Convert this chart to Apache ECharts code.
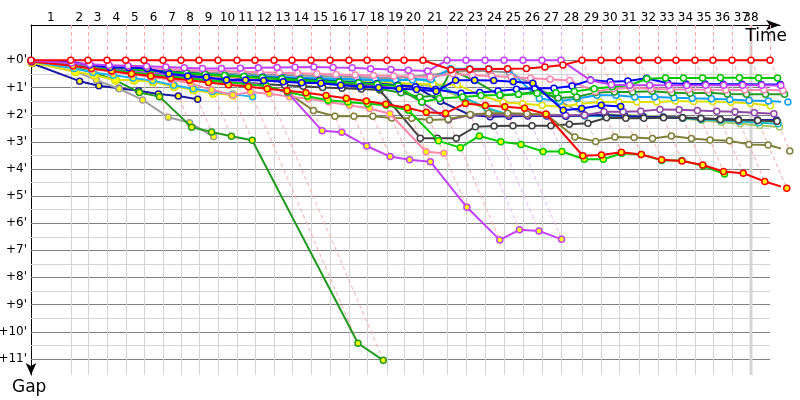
<!DOCTYPE html>
<html><head><meta charset="utf-8">
<script src="https://cdn.jsdelivr.net/npm/echarts@6/dist/echarts.min.js"></script>
<style>html,body{margin:0;padding:0;background:#fff}#c{width:800px;height:400px}</style>
</head><body><div id="c"></div>
<script>
// Leader's cumulative race time (minutes) at the end of each lap (lap 0 = start)
const lapTimes = [0,3.42,4.91,6.55,8.16,9.74,11.38,12.93,14.48,16.12,17.76,19.31,20.95,22.50,24.14,25.78,27.41,28.97,30.69,32.16,33.79,35.86,37.50,39.14,40.78,42.41,44.05,45.69,47.50,49.14,50.69,52.41,54.05,55.60,57.24,58.79,60.43,62.07,63.71];
const lapLabels = ['1','2','3','4','5','6','7','8','9','10','11','12','13','14','15','16','17','18','19','20','21','22','23','24','25','26','27','28','29','30','31','32','33','34','35','36','37','38'];
const gapTicks = [0,1,2,3,4,5,6,7,8,9,10,11];
const gapGrid = [0,0.5,1,1.5,2,2.5,3,3.5,4,4.5,5,5.5,6,6.5,7,7.5,8,8.5,9,9.5,10,10.5,11];
const finishLap = 37;

// Gap to leader (minutes), one value per lap starting at lap 0
const red      = [0,0,0,0,0,0,0,0,0,0,0,0,0,0,0,0,0,0,0,0,0,0.35,0.33,0.32,0.31,0.30,0.25,0.17,0,0,0,0,0,0,0,0,0,0,0];
const violet   = [0.02,0.10,0.15,0.18,0.20,0.22,0.25,0.28,0.30,0.30,0.29,0.28,0.27,0.26,0.25,0.27,0.28,0.31,0.34,0.37,0.40,0,0,0,0,0,0,0,0.74,0.90,0.92,0.92,0.92,0.93,0.92,0.92,0.92,0.92,0.93];
const green    = [0.03,0.15,0.22,0.28,0.33,0.38,0.43,0.48,0.52,0.56,0.60,0.64,0.68,0.72,0.76,0.80,0.84,0.88,0.95,1.54,1.41,1.35,1.30,1.28,1.25,1.22,1.20,1.15,1.05,0.98,0.92,0.68,0.65,0.65,0.65,0.64,0.64,0.65,0.65];
const pink     = [0.03,0.12,0.18,0.22,0.26,0.30,0.33,0.36,0.38,0.40,0.42,0.44,0.46,0.48,0.50,0.52,0.54,0.56,0.58,0.60,0.62,0.50,0.55,0.58,0.62,0.66,0.70,0.75,1.15,1.05,1.02,1.05,1.08,1.08,1.09,1.10,1.10,1.10,1.11];
const blue     = [0.02,0.12,0.20,0.26,0.32,0.37,0.42,0.47,0.52,0.56,0.60,0.63,0.66,0.70,0.74,0.78,0.82,0.86,0.92,0.98,1.08,1.22,1.19,1.13,1.07,1.03,1.03,0.95,0.73,0.79,0.76,0.66,0.85,0.87,0.87,0.88,0.88,0.89,0.89];
const darkGreen= [0.03,0.13,0.20,0.26,0.31,0.36,0.41,0.46,0.51,0.55,0.60,0.65,0.70,0.76,0.82,0.88,0.95,1.05,1.20,1.35,1.30,0.36,0.75,1.30,1.25,1.15,1.39,1.35,1.19,1.17,1.17,1.14,1.20,1.22,1.20,1.24,1.25,1.25,1.25];
const dodger   = [0.03,0.12,0.20,0.27,0.33,0.38,0.43,0.48,0.52,0.55,0.58,0.60,0.62,0.64,0.66,0.68,0.70,0.72,0.74,0.72,0.70,0.31,0.31,0.31,0.33,1.41,1.51,1.41,1.29,1.29,1.35,1.35,1.38,1.40,1.42,1.45,1.48,1.50,1.54];
const yellow   = [0.03,0.13,0.21,0.28,0.34,0.40,0.45,0.50,0.55,0.59,0.63,0.67,0.70,0.73,0.76,0.78,0.80,0.82,0.84,0.86,0.88,0.90,1.30,1.55,1.60,1.66,1.72,1.60,1.54,1.54,1.54,1.54,1.50,1.52,1.52,1.55,1.58,1.68];
const darkPurple=[0.03,0.14,0.22,0.29,0.35,0.41,0.47,0.52,0.57,0.62,0.66,0.70,0.74,0.78,0.82,0.86,0.90,0.95,1.05,1.55,2.20,2.02,2.00,2.02,2.03,2.03,2.03,2.03,1.90,1.90,1.88,1.81,1.82,1.85,1.88,1.90,1.93,1.97];
const navy     = [0.03,0.14,0.22,0.29,0.35,0.40,0.45,0.50,0.55,0.60,0.64,0.68,0.72,0.76,0.80,0.84,0.88,0.90,0.93,0.98,1.51,2.02,2.08,2.06,2.05,2.05,2.06,2.04,2.02,2.05,2.08,2.10,2.12,2.15,2.17,2.19,2.20,2.20];
const teal     = [0.03,0.13,0.21,0.27,0.32,0.37,0.42,0.46,0.50,0.54,0.57,0.60,0.63,0.66,0.69,0.72,0.74,0.76,0.78,0.65,0.80,1.35,1.75,2.00,2.03,2.04,2.05,2.05,2.06,2.07,2.08,2.10,2.14,2.18,2.22,2.26,2.30,2.34];
const gray     = [0.03,0.12,0.19,0.25,0.30,0.34,0.38,0.42,0.45,0.48,0.50,0.52,0.54,0.56,0.58,0.60,0.62,0.64,0.66,0.60,0.55,0.42,0.40,0.40,0.45,0.90,1.50,2.00,2.05,2.06,2.07,2.08,2.10,2.13,2.16,2.19,2.22,2.25];
const lightOlive=[0.03,0.13,0.21,0.28,0.34,0.40,0.46,0.51,0.56,0.61,0.65,0.69,0.73,0.77,0.80,0.83,0.86,0.89,0.92,0.90,0.95,1.40,1.85,1.98,2.00,2.00,2.02,2.03,2.00,2.02,2.04,2.08,2.15,2.22,2.28,2.34,2.40,2.46];
const black    = [0.03,0.15,0.25,0.33,0.40,0.47,0.55,0.62,0.70,0.77,0.83,0.88,0.92,0.96,1.00,1.03,1.06,1.10,2.87,2.87,2.87,2.45,2.42,2.41,2.41,2.41,2.36,2.32,2.12,2.14,2.14,2.12,2.12,2.15,2.18,2.20,2.22,2.25];
const olive    = [0.05,0.20,0.30,0.38,0.45,0.52,0.60,0.68,0.75,0.82,0.88,0.95,1.20,1.85,2.06,2.06,2.06,2.13,2.14,2.20,2.17,2.00,1.95,1.95,1.97,2.00,2.83,2.99,2.83,2.85,2.88,2.79,2.88,2.94,2.97,3.10,3.12,3.34];
const navyY    = [0.12,0.77,0.94,1.03,1.12,1.24,1.32,1.44];
const grayY    = [0.06,0.42,0.73,1.05,1.46,2.10,2.30,2.82];
const darkGreenY=[0.05,0.25,0.45,0.73,1.19,1.34,2.47,2.64,2.80,2.95,10.43,11.06];
const yellowY  = [0.08,0.42,0.54,0.73,0.73,0.79,0.97,1.09,1.22,1.28];
const dodgerY  = [0.05,0.30,0.45,0.55,0.65,0.75,0.92,1.05,1.15,1.25,1.34];
const violetY  = [0.03,0.15,0.25,0.33,0.40,0.47,0.54,0.60,0.67,0.74,0.82,0.95,1.20,2.60,2.65,3.16,3.55,3.67,3.74,5.42,6.62,6.25,6.29,6.60];
const pinkY    = [0.05,0.20,0.32,0.42,0.52,0.62,0.72,0.85,1.09,1.28,1.17,1.23,1.34,1.42,1.54,1.66,1.78,1.97,3.37,3.43];
const redY     = [0.05,0.20,0.30,0.40,0.50,0.58,0.66,0.74,0.82,0.90,0.98,1.05,1.12,1.20,1.30,1.40,1.50,1.62,1.75,1.92,1.95,1.59,1.67,1.71,1.77,1.98,3.52,3.49,3.39,3.47,3.67,3.71,3.86,4.10,4.16,4.47,4.72];
const limeY    = [0.05,0.18,0.28,0.36,0.44,0.52,0.60,0.67,0.74,0.80,0.87,0.95,1.17,1.33,1.47,1.54,1.60,1.66,1.84,2.97,3.22,2.79,3.00,3.10,3.36,3.36,3.65,3.65,3.43,3.47,3.69,3.69,3.90,4.19];
const blueY    = [0.02,0.05,0.17,0.27,0.27,0.30,0.50,0.58,0.63,0.73,0.73,0.75,0.79,0.83,0.85,0.92,0.97,1.00,1.05,1.08,1.14,0.74,0.74,0.75,0.79,0.85,1.84,1.78,1.66,1.70];

const W = '#ffffff', Y = '#ffff00';
const cars = [
  {d: lightOlive, c:'#a8c868', f:W}, {d: gray, c:'#959595', f:W}, {d: teal, c:'#20b8c0', f:W},
  {d: navy, c:'#1a1aa0', f:W}, {d: darkPurple, c:'#9048a8', f:W}, {d: black, c:'#404040', f:W},
  {d: olive, c:'#80803a', f:W}, {d: yellow, c:'#e0e000', f:W}, {d: dodger, c:'#10a0ff', f:W},
  {d: darkGreen, c:'#229a22', f:W}, {d: pink, c:'#ff88b0', f:W}, {d: blue, c:'#0000ff', f:W},
  {d: green, c:'#00c800', f:W},
  {d: navyY, c:'#1a1aa0', f:Y}, {d: grayY, c:'#a0a0a0', f:Y}, {d: darkGreenY, c:'#229a22', f:Y},
  {d: yellowY, c:'#e0e000', f:Y, s:8}, {d: dodgerY, c:'#20b0ff', f:Y}, {d: pinkY, c:'#ff88a8', f:Y},
  {d: violetY, c:'#c040ff', f:Y}, {d: limeY, c:'#00cc00', f:Y}, {d: redY, c:'#ff0000', f:Y},
  {d: blueY, c:'#0000ff', f:Y},
  {d: violet, c:'#c040ff', f:W}, {d: red, c:'#ff0000', f:W}
];

const Y_MIN = -1.3, Y_MAX = 11.6, X_MAX = 64.57;
const FONT = '12px "DejaVu Sans"';
const lastLap = lapTimes.length - 1;
const gmax = lapTimes.map((t, k) => Math.max(...cars.filter(c => c.d.length > k).map(c => c.d[k])));
const labelPos = lapLabels.map((s, i) => i + 1 === lastLap ? lapTimes[finishLap] : (lapTimes[i] + lapTimes[i + 1]) / 2);
const crisp = v => Math.round(v) + 0.5;

const series = [];
// horizontal grid
series.push({type:'custom', silent:true, z:1, data: gapGrid.map(g => [0, g]),
  renderItem: (p, api) => {
    const g = api.value(1);
    const a = api.coord([lapTimes[0], g]), b = api.coord([lapTimes[lastLap], g]);
    const y = crisp(a[1]);
    return {type:'line', shape:{x1:a[0], y1:y, x2:b[0], y2:y},
      style:{stroke: Number.isInteger(g) ? '#808080' : '#d4d4d4', lineWidth:1}};
  }});
// vertical grid at lap ends
series.push({type:'custom', silent:true, z:1, data: lapTimes.slice(1, finishLap + 1).map((t, i) => [t, 0, i + 1]),
  renderItem: (p, api) => {
    const t = api.value(0), k = api.value(2), thick = k === finishLap;
    const a = api.coord([t, thick ? Y_MIN : 0]), b = api.coord([t, Y_MAX]);
    const x = thick ? Math.round(a[0]) : crisp(a[0]);
    return {type:'line', shape:{x1:x, y1:a[1], x2:x, y2:b[1]}, style:{stroke:'#d4d4d4', lineWidth: thick ? 3 : 1}};
  }});
// dashed lap lines (leader crossing -> last car crossing)
series.push({type:'custom', silent:true, z:2,
  data: lapTimes.slice(1).map((t, i) => [t, 0, gmax[i + 1], red[i + 1] === 0 ? 1 : 0]),
  renderItem: (p, api) => {
    const t = api.value(0), g = api.value(2), col = api.value(3) ? '#ffa8a8' : '#e6b0ff';
    const top = api.coord([t, Y_MIN]), z0 = api.coord([t, 0]), end = api.coord([t + g, g]);
    const st = {stroke: col, lineWidth: 1, lineDash: [4, 3]};
    return {type:'group', children:[
      {type:'line', shape:{x1:crisp(top[0]), y1:top[1], x2:crisp(z0[0]), y2:z0[1]}, style:st},
      {type:'line', shape:{x1:z0[0], y1:z0[1], x2:end[0], y2:end[1]}, style:st}
    ]};
  }});
// lap labels
series.push({type:'custom', silent:true, z:5, data: labelPos.map((x, i) => [x, Y_MIN, i]),
  renderItem: (p, api) => {
    const pt = api.coord([api.value(0), Y_MIN]);
    return {type:'text', x: pt[0], y: pt[1] - 1, style:{text: lapLabels[api.value(2)], font: FONT, fill:'#000', align:'center', verticalAlign:'bottom'}};
  }});
// gap labels
series.push({type:'custom', silent:true, z:5, data: gapTicks.map(g => [0, g]),
  renderItem: (p, api) => {
    const g = api.value(1), pt = api.coord([0, g]);
    return {type:'text', x: pt[0] - 4, y: pt[1], style:{text: '+' + g + "'", font: FONT, fill:'#000', align:'right', verticalAlign:'middle'}};
  }});
// cars
cars.forEach((c, i) => series.push({
  type:'line', clip:false, silent:true, z:3 + i * 0.01, animation:false,
  data: c.d.map((g, k) => [lapTimes[k] + g, g]),
  symbol:'circle', symbolSize: c.s || 6, showAllSymbol:true,
  lineStyle:{color:c.c, width:2},
  itemStyle:{color:c.f, borderColor:c.c, borderWidth:1.5},
  emphasis:{disabled:true}
}));

const chart = echarts.init(document.getElementById('c'));
chart.setOption({
  animation:false,
  grid:{left:31, right:20, top:25, bottom:25, containLabel:false},
  xAxis:{type:'value', position:'top', min:0, max:X_MAX,
    axisLine:{show:true, onZero:false, lineStyle:{color:'#000', width:1}, symbol:['none','arrow'], symbolSize:[8,14]},
    axisTick:{show:false}, axisLabel:{show:false}, splitLine:{show:false}},
  yAxis:{type:'value', inverse:true, min:Y_MIN, max:Y_MAX,
    axisLine:{show:true, onZero:false, lineStyle:{color:'#000', width:1}, symbol:['arrow','none'], symbolSize:[8,12]},
    axisTick:{show:false}, axisLabel:{show:false}, splitLine:{show:false}},
  graphic:[
    {type:'text', right:13, top:28, z:100, style:{text:'Time', font:'17px "DejaVu Sans"', fill:'#000'}},
    {type:'text', left:12, top:379, z:100, style:{text:'Gap', font:'17px "DejaVu Sans"', fill:'#000'}}
  ],
  series
});
</script></body></html>
